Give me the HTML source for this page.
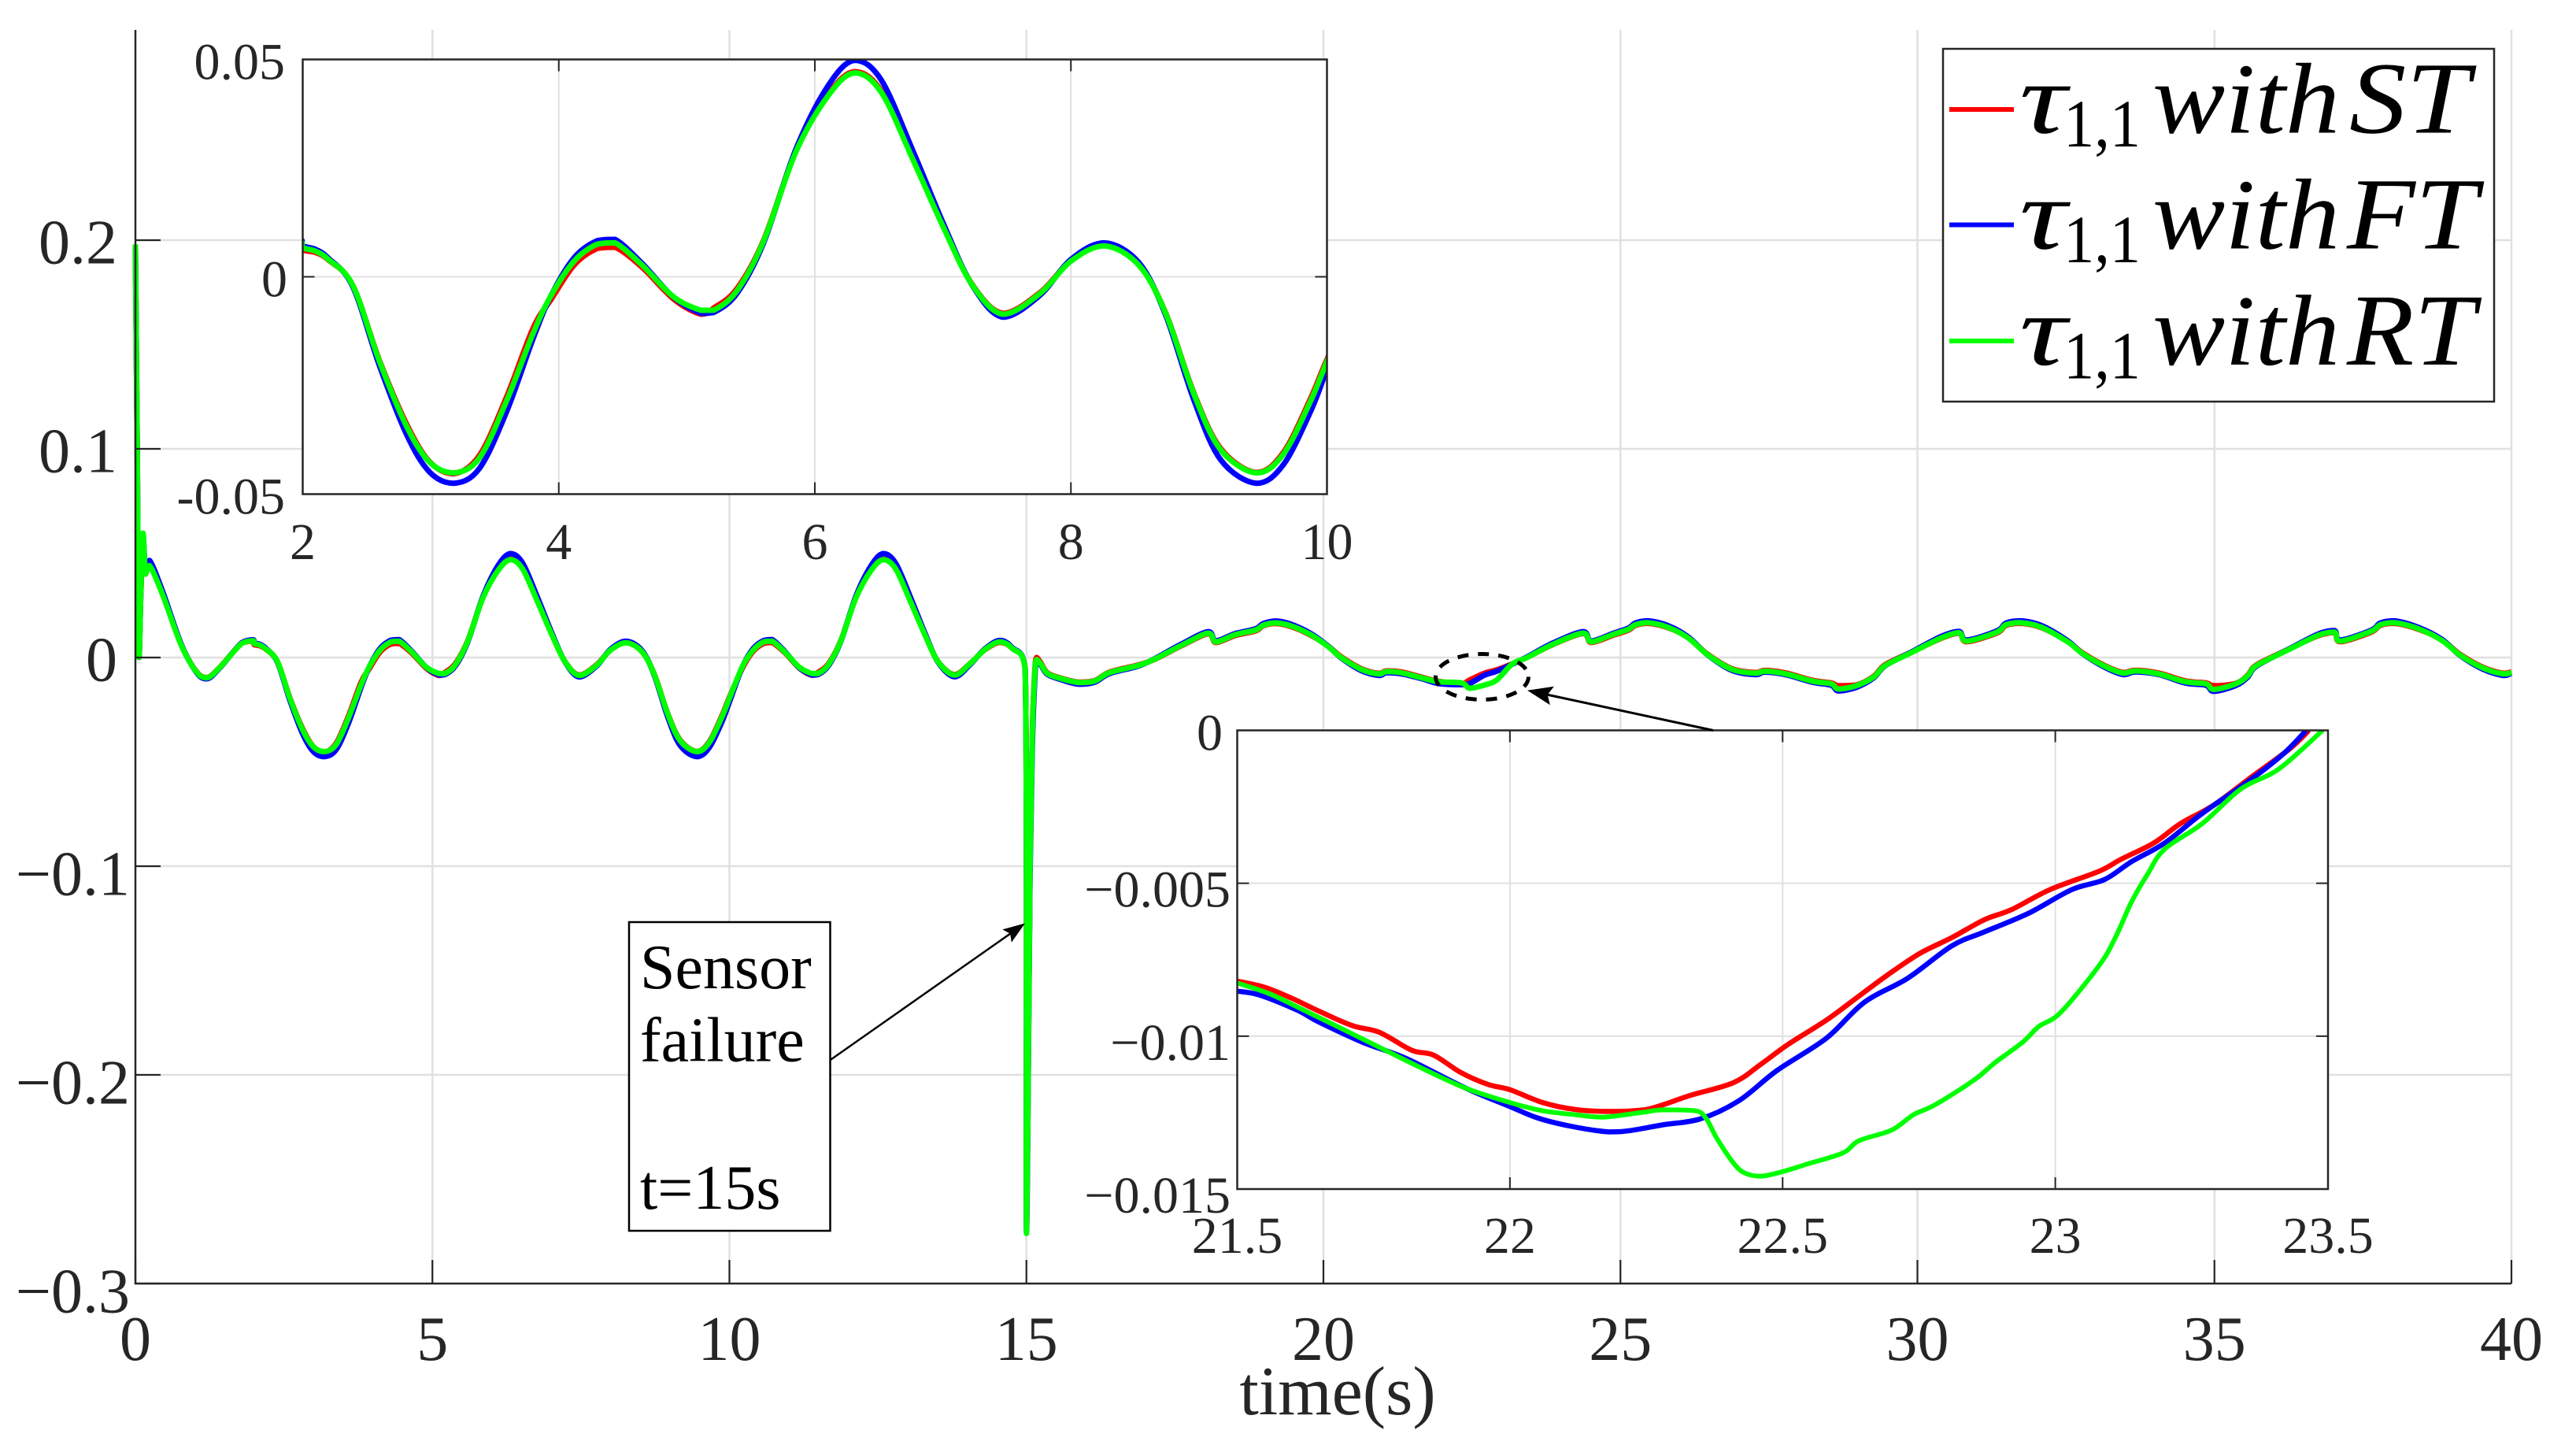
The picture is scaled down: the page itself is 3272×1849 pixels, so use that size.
<!DOCTYPE html>
<html lang="en">
<head>
<meta charset="utf-8">
<title>Joint torque response with sensor failure</title>
<style>
html,body{margin:0;padding:0;background:#fff;}
svg{display:block;}
text{font-family:"Liberation Serif","DejaVu Serif",serif;fill:#262626;}
</style>
</head>
<body>
<svg id="chart" xmlns="http://www.w3.org/2000/svg" width="3272" height="1849" viewBox="0 0 3272 1849">
  <rect x="0" y="0" width="3272" height="1849" fill="#fff"/>
  <defs>
    <clipPath id="clip-inset-a"><rect x="384" y="75" width="1302" height="553"/></clipPath>
    <clipPath id="clip-inset-b"><rect x="1571" y="927" width="1387" height="583"/></clipPath>
  </defs>
  <g id="main-grid"></g>
  <g id="main-series"></g>
  <g id="main-axes"></g>
  <text x="1699" y="1796" font-size="88" text-anchor="middle">time(s)</text>

  <g id="inset-a"></g>
  <g id="inset-b"></g>

  <rect x="799" y="1171" width="255.5" height="392" fill="#fff" stroke="#000" stroke-width="2.5"/>
  <text x="813" y="1255" font-size="80" style="fill:#000">Sensor</text>
  <text x="813" y="1347.5" font-size="80" style="fill:#000">failure</text>
  <text x="813" y="1535" font-size="80" style="fill:#000">t=15s</text>

  <ellipse cx="1882.5" cy="859.5" rx="59" ry="29" fill="none" stroke="#000" stroke-width="5" stroke-dasharray="14 12"/>
  <g id="annotations"></g>

  <g>
    <rect x="2468" y="62" width="700" height="448" fill="#fff" stroke="#262626" stroke-width="2.5"/>
    <g>
      <line x1="2476" x2="2558" y1="139" y2="139" stroke="#ff0000" stroke-width="6"/>
      <text x="2565" y="168.5" font-size="128" font-style="italic" textLength="60" lengthAdjust="spacingAndGlyphs" style="fill:#000">τ</text>
      <text x="2621" y="186" font-size="86" textLength="98" lengthAdjust="spacingAndGlyphs" style="fill:#000">1,1</text>
      <text x="2734" y="168.5" font-size="128" font-style="italic" textLength="238" lengthAdjust="spacingAndGlyphs" style="fill:#000">with</text>
      <text x="2984" y="168.5" font-size="130" font-style="italic" textLength="153" lengthAdjust="spacingAndGlyphs" style="fill:#000">ST</text>
    </g>
    <g>
      <line x1="2476" x2="2558" y1="285.5" y2="285.5" stroke="#0000ff" stroke-width="6"/>
      <text x="2565" y="315.5" font-size="128" font-style="italic" textLength="60" lengthAdjust="spacingAndGlyphs" style="fill:#000">τ</text>
      <text x="2621" y="333" font-size="86" textLength="98" lengthAdjust="spacingAndGlyphs" style="fill:#000">1,1</text>
      <text x="2734" y="315.5" font-size="128" font-style="italic" textLength="238" lengthAdjust="spacingAndGlyphs" style="fill:#000">with</text>
      <text x="2981" y="315.5" font-size="130" font-style="italic" textLength="166" lengthAdjust="spacingAndGlyphs" style="fill:#000">FT</text>
    </g>
    <g>
      <line x1="2476" x2="2558" y1="433" y2="433" stroke="#00ff00" stroke-width="6"/>
      <text x="2565" y="463" font-size="128" font-style="italic" textLength="60" lengthAdjust="spacingAndGlyphs" style="fill:#000">τ</text>
      <text x="2621" y="480.5" font-size="86" textLength="98" lengthAdjust="spacingAndGlyphs" style="fill:#000">1,1</text>
      <text x="2734" y="463" font-size="128" font-style="italic" textLength="238" lengthAdjust="spacingAndGlyphs" style="fill:#000">with</text>
      <text x="2981" y="463" font-size="130" font-style="italic" textLength="163" lengthAdjust="spacingAndGlyphs" style="fill:#000">RT</text>
    </g>
  </g>
</svg>
<script>
// ---- Full-run data (time in s, torque) ----
const times = [
  0,.03,.06,.09,.128,.17,.24,.46,.77,1.03,
  1.21,1.43,1.79,1.98,2,2.1,2.2,2.39,2.6,2.81,
  2.99,3.18,3.38,3.59,3.8,3.94,4.12,4.3,4.44,4.65,
  4.9,5.11,5.21,5.39,5.6,5.85,6.1,6.31,6.52,6.77,
  7.01,7.23,7.47,7.76,8,8.26,8.53,8.74,8.96,9.17,
  9.45,9.66,9.87,10,
  10.22,10.4,10.58,10.72,10.93,11.18,11.39,11.49,11.67,11.88,
  12.13,12.38,12.59,12.8,13.05,13.29,13.51,13.79,14.05,14.3,
  14.55,14.76,14.98,
  15,15.03,15.06,15.1,15.14,15.17,15.24,15.35,15.57,15.88,
  16.15,16.4,16.88,17.17,17.6,18.06,18.19,18.52,18.86,18.99,
  19.2,19.46,19.8,20.09,20.3,20.64,20.94,21.06,21.31,21.65,
  21.94,22.33,22.46,22.71,22.92,23.18,23.43,23.86,24.37,24.51,
  24.87,25.14,25.25,25.46,25.8,26.14,26.47,26.88,27.28,27.43,
  27.78,28.23,28.55,28.67,28.97,29.26,29.46,29.91,30.4,30.7,
  30.83,31.34,31.49,31.74,32.09,32.53,32.78,33.17,33.47,33.67,
  34.07,34.51,34.86,34.99,35.36,35.56,35.71,36.25,36.75,37.02,
  37.12,37.64,37.79,38.03,38.43,38.83,39.13,39.52,39.87,40
];
const stValues = [
  .197,.1,0,.03,.057,.04,.0445,.0302,.0062,-.0068,
  -.0096,-.0044,.0069,.0079,.0062,.0056,.0039,-.0019,-.0193,-.0338,
  -.0425,-.0453,-.0411,-.0278,-.0118,-.0052,.0027,.0065,.0068,.0022,
  -.0052,-.0086,-.0072,-.0028,.0084,.0288,.0418,.0472,.0427,.0269,
  .0111,-.0018,-.0084,-.0036,.0037,.0072,.0028,-.0083,-.0267,-.0395,
  -.045,-.0404,-.0281,-.019,
  -.005,.003,.0068,.0072,.0024,-.0051,-.0085,-.0072,-.0029,.0084,
  .0288,.0418,.0472,.0427,.0269,.0111,-.0018,-.0082,-.0029,.0037,
  .0073,.0044,-.0055,
  -.274,-.2,-.098,-.035,-.007,0,-.0025,-.0073,-.0098,-.0118,
  -.0111,-.007,-.0036,-.0007,.0055,.0114,.0072,.0106,.0128,.0153,
  .0163,.0148,.0105,.0052,.0003,-.0054,-.0076,-.0064,-.0069,-.0094,
  -.0114,-.0124,-.0108,-.0075,-.0059,-.003,.0001,.0062,.0115,.0072,
  .0106,.0132,.0154,.0164,.0143,.0096,.0015,-.0054,-.0072,-.0062,
  -.0074,-.0109,-.0122,-.0135,-.0132,-.0091,-.0034,.0027,.0092,.0117,
  .0076,.0118,.0154,.0164,.0143,.0077,.0022,-.0041,-.0072,-.0061,
  -.0075,-.0112,-.0122,-.0135,-.0124,-.0085,-.0035,.004,.0105,.012,
  .0076,.0122,.0154,.0164,.0136,.0084,.0016,-.0047,-.0076,-.0069
];
const ftValues = [
  .196,.1,0,.03,.058,.042,.0465,.0315,.0065,-.0072,
  -.0102,-.0047,.0071,.0085,.0071,.0063,.0043,-.0022,-.0205,-.0362,
  -.0449,-.0475,-.0441,-.0312,-.0142,-.0043,.0044,.0083,.0086,.0031,
  -.0048,-.0084,-.0082,-.0039,.0078,.0292,.0438,.0498,.0452,.0287,
  .0118,-.002,-.0093,-.0042,.004,.0078,.0033,-.0088,-.0283,-.0421,
  -.0475,-.0432,-.0311,-.0213,
  -.0044,.0043,.0082,.0086,.003,-.005,-.0084,-.0082,-.0038,.008,
  .0294,.0438,.0498,.0451,.0287,.0118,-.0021,-.0092,-.0034,.0041,
  .0082,.0048,-.0058,
  -.275,-.205,-.105,-.042,-.011,-.002,-.0035,-.008,-.0105,-.0128,
  -.0118,-.0077,-.0041,-.0004,.0063,.0124,.008,.0115,.0138,.0163,
  .0175,.0159,.0113,.0052,-.0002,-.0063,-.0086,-.0073,-.0078,-.0101,
  -.0125,-.013,-.0125,-.0085,-.0065,-.0032,.0003,.0069,.0124,.0079,
  .0115,.0142,.0165,.0176,.0153,.0099,.0012,-.0062,-.0082,-.007,
  -.0082,-.0118,-.0133,-.016,-.0143,-.0098,-.0039,.0028,.0101,.0125,
  .0084,.0128,.0165,.0176,.0153,.008,.0018,-.0049,-.0082,-.0069,
  -.0082,-.0122,-.0133,-.0162,-.0134,-.0094,-.0041,.004,.0113,.0129,
  .0084,.0131,.0165,.0176,.0145,.0087,.0011,-.0056,-.0086,-.0074
];
const rtValues = [
  .198,.1,0,.03,.0596,.04,.044,.03,.006,-.007,
  -.0097,-.0045,.0068,.008,.0067,.0059,.004,-.0019,-.0195,-.0343,
  -.0426,-.0451,-.0417,-.0287,-.013,-.0043,.0036,.0075,.0078,.0027,
  -.0047,-.0077,-.0077,-.0033,.0082,.0286,.0415,.0469,.0424,.0267,
  .011,-.0019,-.0086,-.0038,.0036,.0071,.0027,-.0084,-.0269,-.0398,
  -.0451,-.0408,-.0287,-.0195,
  -.0043,.0036,.0075,.0078,.0027,-.0047,-.0077,-.0077,-.0033,.0082,
  .0286,.0415,.0469,.0424,.0267,.011,-.0019,-.0084,-.003,.0038,
  .0075,.0044,-.0057,
  -.276,-.2,-.1,-.036,-.008,-.001,-.003,-.0076,-.01,-.012,
  -.0113,-.0072,-.0038,-.0006,.0057,.0117,.0075,.011,.0132,.0155,
  .0166,.0151,.0107,.005,0,-.0057,-.0079,-.0067,-.0073,-.0097,
  -.0116,-.0122,-.0147,-.0132,-.0107,-.0031,0,.0063,.0117,.0075,
  .011,.0136,.0157,.0167,.0145,.0094,.0013,-.0057,-.0075,-.0065,
  -.0078,-.0113,-.0126,-.0151,-.0135,-.0094,-.0038,.0025,.0094,.0119,
  .0079,.0122,.0157,.0167,.0145,.0075,.0019,-.0044,-.0075,-.0064,
  -.0079,-.0116,-.0126,-.0153,-.0126,-.0088,-.0038,.0038,.0107,.0122,
  .0079,.0126,.0157,.0167,.0138,.0082,.0013,-.005,-.0079,-.0072
];

// ---- Detail window 21.5–23.5 s ----
const zoomStTimes = [21.5,21.55,21.6,21.64,21.71,21.76,21.82,21.86,21.91,21.96,22,22.06,22.12,22.18,22.25,22.33,22.41,22.46,22.51,22.58,22.64,22.69,22.75,22.81,22.87,22.92,22.99,23.08,23.12,23.18,23.23,23.29,23.36,23.43,23.465];
const zoomStValues = [-.0082,-.0084,-.00876,-.0091,-.00965,-.00987,-.01046,-.01062,-.01119,-.01158,-.01175,-.01217,-.0124,-.01246,-.0124,-.01194,-.01152,-.01092,-.01027,-.00948,-.00869,-.00803,-.00731,-.00678,-.00619,-.00586,-.00521,-.00461,-.00422,-.00369,-.00304,-.00245,-.00152,-.0006,0];
const zoomFtTimes = [21.5,21.54,21.61,21.65,21.73,21.81,21.92,22,22.05,22.11,22.18,22.22,22.28,22.35,22.42,22.49,22.58,22.65,22.73,22.81,22.87,22.95,23.03,23.09,23.14,23.2,23.27,23.36,23.42,23.46];
const zoomFtValues = [-.00853,-.00865,-.00915,-.00954,-.0102,-.01073,-.01171,-.0123,-.01267,-.01294,-.01313,-.01309,-.0129,-.0127,-.01211,-.01112,-.01007,-.00889,-.0081,-.00705,-.00659,-.00599,-.00521,-.00488,-.00429,-.00369,-.00271,-.00159,-.00074,0];
const zoomRtTimes = [21.5,21.56,21.63,21.69,21.75,21.84,21.92,22,22.06,22.12,22.17,22.24,22.28,22.34,22.36,22.38,22.41,22.43,22.46,22.5,22.54,22.61,22.64,22.7,22.74,22.78,22.85,22.89,22.94,22.97,23.01,23.08,23.11,23.14,23.17,23.2,23.27,23.34,23.41,23.49];
const zoomRtValues = [-.00826,-.00862,-.00922,-.00974,-.01027,-.01106,-.01171,-.01217,-.01244,-.01257,-.01265,-.0125,-.01241,-.01244,-.0127,-.01336,-.01415,-.01447,-.01458,-.01443,-.01421,-.01382,-.01342,-.01307,-.01257,-.01224,-.01145,-.01086,-.0102,-.00968,-.00922,-.0077,-.00678,-.0056,-.00468,-.00389,-.00304,-.00192,-.00126,0];

// ---- Tick labels ----
const mainXTicks = [0,5,10,15,20,25,30,35,40];
const mainYTicks = [0.2,0.1,0,-0.1,-0.2,-0.3];
const mainYLabels = ['0.2','0.1','0','−0.1','−0.2','−0.3'];
const insetAXTicks = [2,4,6,8,10];
const insetAYTicks = [0.05,0,-0.05];
const insetAYLabels = ['0.05','0','-0.05'];
const insetBXTicks = [21.5,22,22.5,23,23.5];
const insetBYTicks = [0,-0.005,-0.01,-0.015];
const insetBYLabels = ['0','−0.005','−0.01','−0.015'];

const SVGNS = 'http://www.w3.org/2000/svg';
const GRID = '#e0e0e0', AXIS = '#262626';
const RED = '#ff0000', BLUE = '#0000ff', GREEN = '#00ff00';

function mk(parent, tag, name, attrs, text){
  const el = document.createElementNS(SVGNS, tag);
  
  
  for (const k in attrs) el.setAttribute(k, attrs[k]);
  if (text !== undefined) el.textContent = text;
  parent.appendChild(el);
  return el;
}
function linear(d0, d1, r0, r1){
  return function(v){ return r0 + (v - d0) / (d1 - d0) * (r1 - r0); };
}
// Catmull-Rom with control points clamped so narrow spikes do not overshoot
function smoothPath(xs, ys){
  let d = 'M' + xs[0].toFixed(1) + ' ' + ys[0].toFixed(1);
  const n = xs.length;
  for (let i = 0; i < n - 1; i++){
    const p = Math.max(i - 1, 0), q = Math.min(i + 2, n - 1);
    const lo = Math.min(ys[i], ys[i + 1]), hi = Math.max(ys[i], ys[i + 1]);
    const c1x = xs[i] + (xs[i + 1] - xs[p]) / 6;
    const c1y = Math.min(hi, Math.max(lo, ys[i] + (ys[i + 1] - ys[p]) / 6));
    const c2x = xs[i + 1] - (xs[q] - xs[i]) / 6;
    const c2y = Math.min(hi, Math.max(lo, ys[i + 1] - (ys[q] - ys[i]) / 6));
    d += 'C' + c1x.toFixed(1) + ' ' + c1y.toFixed(1) + ' ' + c2x.toFixed(1) + ' ' + c2y.toFixed(1) + ' ' + xs[i + 1].toFixed(1) + ' ' + ys[i + 1].toFixed(1);
  }
  return d;
}
function drawSeries(parent, name, ts, vs, xf, yf, color, width, clip){
  const m = Math.min(ts.length, vs.length);
  const xs = [], ys = [];
  for (let i = 0; i < m; i++){ xs.push(xf(ts[i])); ys.push(yf(vs[i])); }
  const attrs = {d: smoothPath(xs, ys), fill: 'none', stroke: color, 'stroke-width': width, 'stroke-linejoin': 'round'};
  if (clip) attrs['clip-path'] = 'url(#' + clip + ')';
  return mk(parent, 'path', name, attrs);
}

// ---- Main axes ----
const mx = linear(0, 40, 172, 3190);
const my = linear(0, 0.1, 835, 570);
const gridG = document.getElementById('main-grid');
const axesG = document.getElementById('main-axes');
const seriesG = document.getElementById('main-series');
const TOP = 38, BOTTOM = 1630;

mainXTicks.forEach(function(v){
  if (v > 0) mk(gridG, 'line', 'x-gridline-' + v, {x1: mx(v), x2: mx(v), y1: TOP, y2: BOTTOM, stroke: GRID, 'stroke-width': 2.5});
});
mainYTicks.forEach(function(v){
  if (v > -0.3) mk(gridG, 'line', 'y-gridline-' + v, {x1: 172, x2: 3190, y1: my(v), y2: my(v), stroke: GRID, 'stroke-width': 2.5});
});
drawSeries(seriesG, 'series-st', times, stValues, mx, my, RED, 7);
drawSeries(seriesG, 'series-ft', times, ftValues, mx, my, BLUE, 7);
drawSeries(seriesG, 'series-rt', times, rtValues, mx, my, GREEN, 7);

mk(axesG, 'line', 'y-axis-line', {x1: 172, x2: 172, y1: TOP, y2: BOTTOM + 1, stroke: AXIS, 'stroke-width': 2.5});
mk(axesG, 'line', 'x-axis-line', {x1: 171, x2: 3190, y1: BOTTOM, y2: BOTTOM, stroke: AXIS, 'stroke-width': 2.5});
mainXTicks.forEach(function(v){
  mk(axesG, 'line', 'x-tick-' + v, {x1: mx(v), x2: mx(v), y1: BOTTOM, y2: BOTTOM - 30, stroke: AXIS, 'stroke-width': 2.2});
  mk(axesG, 'text', 'x-tick-label-' + v, {x: mx(v), y: 1727, 'font-size': 80, 'text-anchor': 'middle'}, String(v));
});
mainYTicks.forEach(function(v, i){
  mk(axesG, 'line', 'y-tick-' + v, {x1: 172, x2: 204, y1: my(v), y2: my(v), stroke: AXIS, 'stroke-width': 2.2});
  const neg = v < 0;
  mk(axesG, 'text', 'y-tick-label-' + v, {x: neg ? 165 : 149, y: my(v) + (neg ? 36.5 : 29.5), 'font-size': 80, 'text-anchor': 'end'}, mainYLabels[i]);
});

// ---- Inset axes helper ----
function drawInsetFrame(g, box, xf, yf, xTicks, yTicks, yLabels, cfg){
  mk(g, 'rect', cfg.prefix + '-background', {x: box.l, y: box.t, width: box.r - box.l, height: box.b - box.t, fill: '#fff'});
  xTicks.forEach(function(v){
    if (xf(v) > box.l + 1 && xf(v) < box.r - 1)
      mk(g, 'line', cfg.prefix + '-x-gridline-' + v, {x1: xf(v), x2: xf(v), y1: box.t, y2: box.b, stroke: GRID, 'stroke-width': 2});
  });
  yTicks.forEach(function(v){
    if (yf(v) > box.t + 1 && yf(v) < box.b - 1)
      mk(g, 'line', cfg.prefix + '-y-gridline-' + v, {x1: box.l, x2: box.r, y1: yf(v), y2: yf(v), stroke: GRID, 'stroke-width': 2});
  });
}
function drawInsetAxes(g, box, xf, yf, xTicks, yTicks, yLabels, cfg){
  mk(g, 'rect', cfg.prefix + '-frame', {x: box.l, y: box.t, width: box.r - box.l, height: box.b - box.t, fill: 'none', stroke: AXIS, 'stroke-width': 2.5});
  xTicks.forEach(function(v){
    mk(g, 'line', cfg.prefix + '-x-tick-bottom-' + v, {x1: xf(v), x2: xf(v), y1: box.b, y2: box.b - 15, stroke: AXIS, 'stroke-width': 2});
    mk(g, 'line', cfg.prefix + '-x-tick-top-' + v, {x1: xf(v), x2: xf(v), y1: box.t, y2: box.t + 15, stroke: AXIS, 'stroke-width': 2});
    mk(g, 'text', cfg.prefix + '-x-label-' + v, {x: xf(v), y: cfg.xBase, 'font-size': 66, 'text-anchor': 'middle'}, String(v));
  });
  yTicks.forEach(function(v, i){
    mk(g, 'line', cfg.prefix + '-y-tick-left-' + v, {x1: box.l, x2: box.l + 15, y1: yf(v), y2: yf(v), stroke: AXIS, 'stroke-width': 2});
    mk(g, 'line', cfg.prefix + '-y-tick-right-' + v, {x1: box.r, x2: box.r - 15, y1: yf(v), y2: yf(v), stroke: AXIS, 'stroke-width': 2});
    const o = cfg.yLabel(v);
    mk(g, 'text', cfg.prefix + '-y-label-' + v, {x: o.x, y: yf(v) + o.dy, 'font-size': 66, 'text-anchor': 'end'}, yLabels[i]);
  });
}

// ---- Inset A: 2–10 s ----
const boxA = {l: 384.5, r: 1685.5, t: 75.5, b: 627.5};
const ax = linear(2, 10, boxA.l, boxA.r);
const ay = linear(0.05, -0.05, boxA.t, boxA.b);
const insetA = document.getElementById('inset-a');
const cfgA = {prefix: 'inset-a', xBase: 710, yLabel: function(v){ return {x: v === 0 ? 365 : 362, dy: 25}; }};
drawInsetFrame(insetA, boxA, ax, ay, insetAXTicks, insetAYTicks, insetAYLabels, cfgA);
drawSeries(insetA, 'inset-a-series-st', times, stValues, ax, ay, RED, 7, 'clip-inset-a');
drawSeries(insetA, 'inset-a-series-ft', times, ftValues, ax, ay, BLUE, 7, 'clip-inset-a');
drawSeries(insetA, 'inset-a-series-rt', times, rtValues, ax, ay, GREEN, 7, 'clip-inset-a');
drawInsetAxes(insetA, boxA, ax, ay, insetAXTicks, insetAYTicks, insetAYLabels, cfgA);

// ---- Inset B: 21.5–23.5 s ----
const boxB = {l: 1571.5, r: 2957, t: 927.5, b: 1510};
const bx = linear(21.5, 23.5, boxB.l, boxB.r);
const by = linear(0, -0.015, boxB.t, boxB.b);
const insetB = document.getElementById('inset-b');
const cfgB = {prefix: 'inset-b', xBase: 1591, yLabel: function(v){ return v === 0 ? {x: 1553, dy: 25} : {x: 1563, dy: 30}; }};
drawInsetFrame(insetB, boxB, bx, by, insetBXTicks, insetBYTicks, insetBYLabels, cfgB);
drawSeries(insetB, 'inset-b-series-st', zoomStTimes, zoomStValues, bx, by, RED, 6.5, 'clip-inset-b');
drawSeries(insetB, 'inset-b-series-ft', zoomFtTimes, zoomFtValues, bx, by, BLUE, 6.5, 'clip-inset-b');
drawSeries(insetB, 'inset-b-series-rt', zoomRtTimes, zoomRtValues, bx, by, GREEN, 6, 'clip-inset-b');
drawInsetAxes(insetB, boxB, bx, by, insetBXTicks, insetBYTicks, insetBYLabels, cfgB);

// ---- Annotation arrows ----
function arrow(parent, name, x0, y0, x1, y1, len, half, w){
  const dx = x1 - x0, dy = y1 - y0, L = Math.hypot(dx, dy), ux = dx / L, uy = dy / L;
  const bx0 = x1 - ux * len * 0.82, by0 = y1 - uy * len * 0.82;
  mk(parent, 'line', name + '-shaft', {x1: x0, y1: y0, x2: bx0, y2: by0, stroke: '#000', 'stroke-width': w});
  const px = -uy, py = ux;
  const wx = x1 - ux * len, wy = y1 - uy * len;
  const pts = [[x1, y1], [wx + px * half, wy + py * half], [bx0, by0], [wx - px * half, wy - py * half]];
  mk(parent, 'polygon', name + '-head', {points: pts.map(function(p){ return p[0].toFixed(1) + ',' + p[1].toFixed(1); }).join(' '), fill: '#000'});
}
const annoG = document.getElementById('annotations');
arrow(annoG, 'sensor-failure-arrow', 1054, 1346.5, 1302, 1172.5, 28, 10, 2.5);
arrow(annoG, 'zoom-callout-arrow', 2176, 927.5, 1940, 876.7, 32, 12, 3);
</script>
</body>
</html>
